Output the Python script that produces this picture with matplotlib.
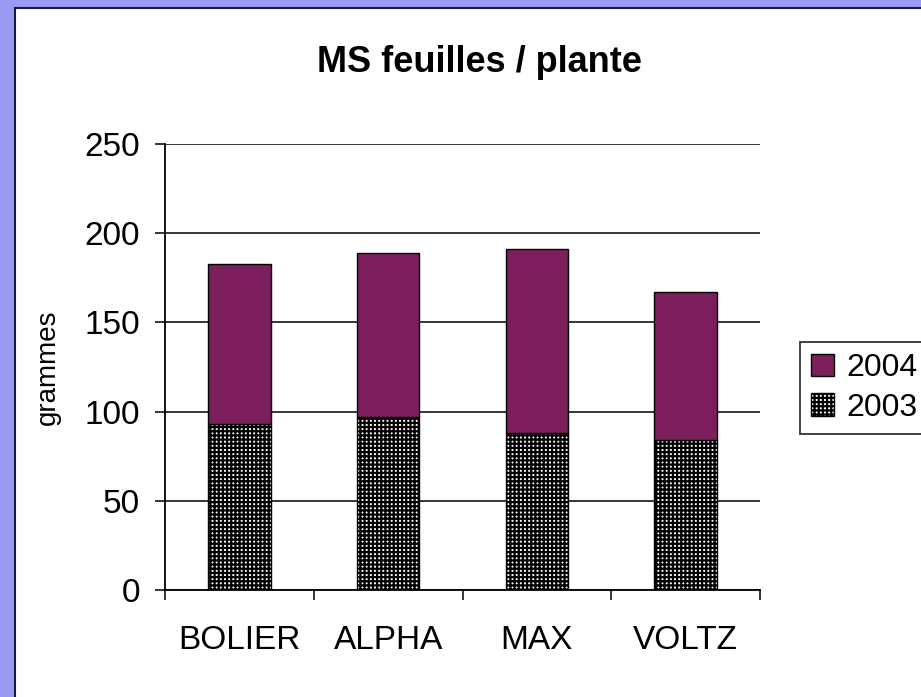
import matplotlib
matplotlib.use("Agg")
import matplotlib.pyplot as plt
from matplotlib.patches import Rectangle, Patch
import numpy as np

# data
varietes = ['BOLIER', 'ALPHA', 'MAX', 'VOLTZ']
ms_2003 = [93, 97, 88, 84]
ms_2004 = [90, 92, 103, 83]

plt.rcParams['font.family'] = ['Liberation Sans', 'DejaVu Sans']
plt.rcParams['hatch.linewidth'] = 1.6

W, H = 921, 697
fig = plt.figure(figsize=(W / 100, H / 100), dpi=100)
fig.patch.set_facecolor('#9a9af2')

# white chart panel with dark edge (behind everything)
panel = Rectangle((15 / W, -0.05), 1.2, 1 - 8 / H + 0.05, transform=fig.transFigure,
                  facecolor='white', edgecolor='#1c1c3c', linewidth=1.5, zorder=-10)
fig.add_artist(panel)

ax = fig.add_axes([165 / W, 1 - 590 / H, (760 - 165) / W, (590 - 144) / H])
ax.set_facecolor('white')

x = np.arange(len(varietes))
width = 0.42
purple = '#7d1f5c'

ax.bar(x, ms_2003, width, facecolor='white', edgecolor='black', hatch='++++',
       linewidth=1.0, label='2003', zorder=3)
ax.bar(x, ms_2004, width, bottom=ms_2003, color=purple, edgecolor='black',
       linewidth=1.0, label='2004', zorder=3)

ax.set_xlim(-0.5, len(varietes) - 0.5)
ax.set_ylim(0, 250)
ax.set_yticks(np.arange(0, 251, 50))
ax.yaxis.grid(True, color='black', linewidth=1.1, zorder=1)
ax.set_axisbelow(True)

ax.set_xticks(x)
ax.set_xticklabels(varietes, fontsize=24)
ax.set_xticks(np.arange(-0.5, len(varietes), 1), minor=True)
ax.tick_params(axis='x', which='major', length=0, pad=25)
ax.tick_params(axis='x', which='minor', length=7, width=1.1, direction='out')
ax.tick_params(axis='y', labelsize=24, length=7, width=1.1, direction='out', pad=11)

for side in ['top', 'right']:
    ax.spines[side].set_visible(False)
for side in ['left', 'bottom']:
    ax.spines[side].set_linewidth(1.3)

ax.set_ylabel('grammes', fontsize=20, labelpad=17)
fig.text(479 / W, 1 - 62 / H, 'MS feuilles / plante', ha='center', va='center',
         fontsize=26, fontweight='bold')

handles = [Patch(facecolor=purple, edgecolor='black', label='2004'),
           Patch(facecolor='white', edgecolor='black', hatch='++++', label='2003')]
leg = fig.legend(handles=handles, loc='upper left',
                 bbox_to_anchor=(800 / W, 1 - 342 / H), fontsize=23,
                 frameon=True, fancybox=False, handlelength=0.7, handleheight=0.7,
                 handletextpad=0.4, borderpad=0.35, borderaxespad=0,
                 labelspacing=0.3)
leg.get_frame().set_edgecolor('black')
leg.get_frame().set_linewidth(1.3)

fig.savefig('out.png', dpi=100, facecolor=fig.get_facecolor())
